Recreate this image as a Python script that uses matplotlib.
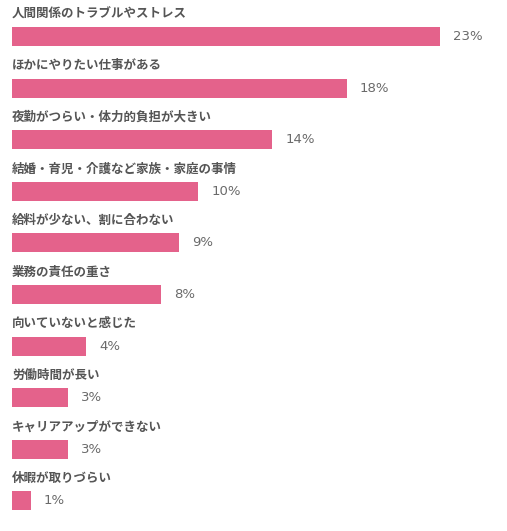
import matplotlib
matplotlib.use('Agg')
import matplotlib.pyplot as plt

plt.rcParams['font.family'] = ['Noto Sans CJK JP', 'DejaVu Sans']

# data
labels = [
    '人間関係のトラブルやストレス',
    'ほかにやりたい仕事がある',
    '夜勤がつらい・体力的負担が大きい',
    '結婚・育児・介護など家族・家庭の事情',
    '給料が少ない、割に合わない',
    '業務の責任の重さ',
    '向いていないと感じた',
    '労働時間が長い',
    'キャリアアップができない',
    '休暇が取りづらい',
]
values = [23, 18, 14, 10, 9, 8, 4, 3, 3, 1]
value_labels = ['23%', '18%', '14%', '10%', '9%', '8%', '4%', '3%', '3%', '1%']

fig = plt.figure(figsize=(5.07, 5.31), dpi=100)
ax = fig.add_axes([12 / 507, 0, 495 / 507, 1])

pos = list(range(len(values)))
ax.barh(pos, values, height=0.37, color='#E4628B', left=0)

# category names above bars, percentages to the right
for i, (name, v, txt) in enumerate(zip(labels, values, value_labels)):
    ax.annotate(name, (0, i), xytext=(0, 16), textcoords='offset points',
                ha='left', va='center', fontsize=9, fontweight='bold',
                color='#555555')
    ax.annotate(txt, (v, i), xytext=(9.5, 0), textcoords='offset points',
                ha='left', va='center', fontsize=9.5, color='#6a6a6a',
                family='DejaVu Sans')

ax.set_xlim(0, 495 / 18.6)
ax.set_ylim(531 / 51.6 - 36.5 / 51.6, -36.5 / 51.6)
ax.axis('off')

fig.savefig('out.png', dpi=100)
